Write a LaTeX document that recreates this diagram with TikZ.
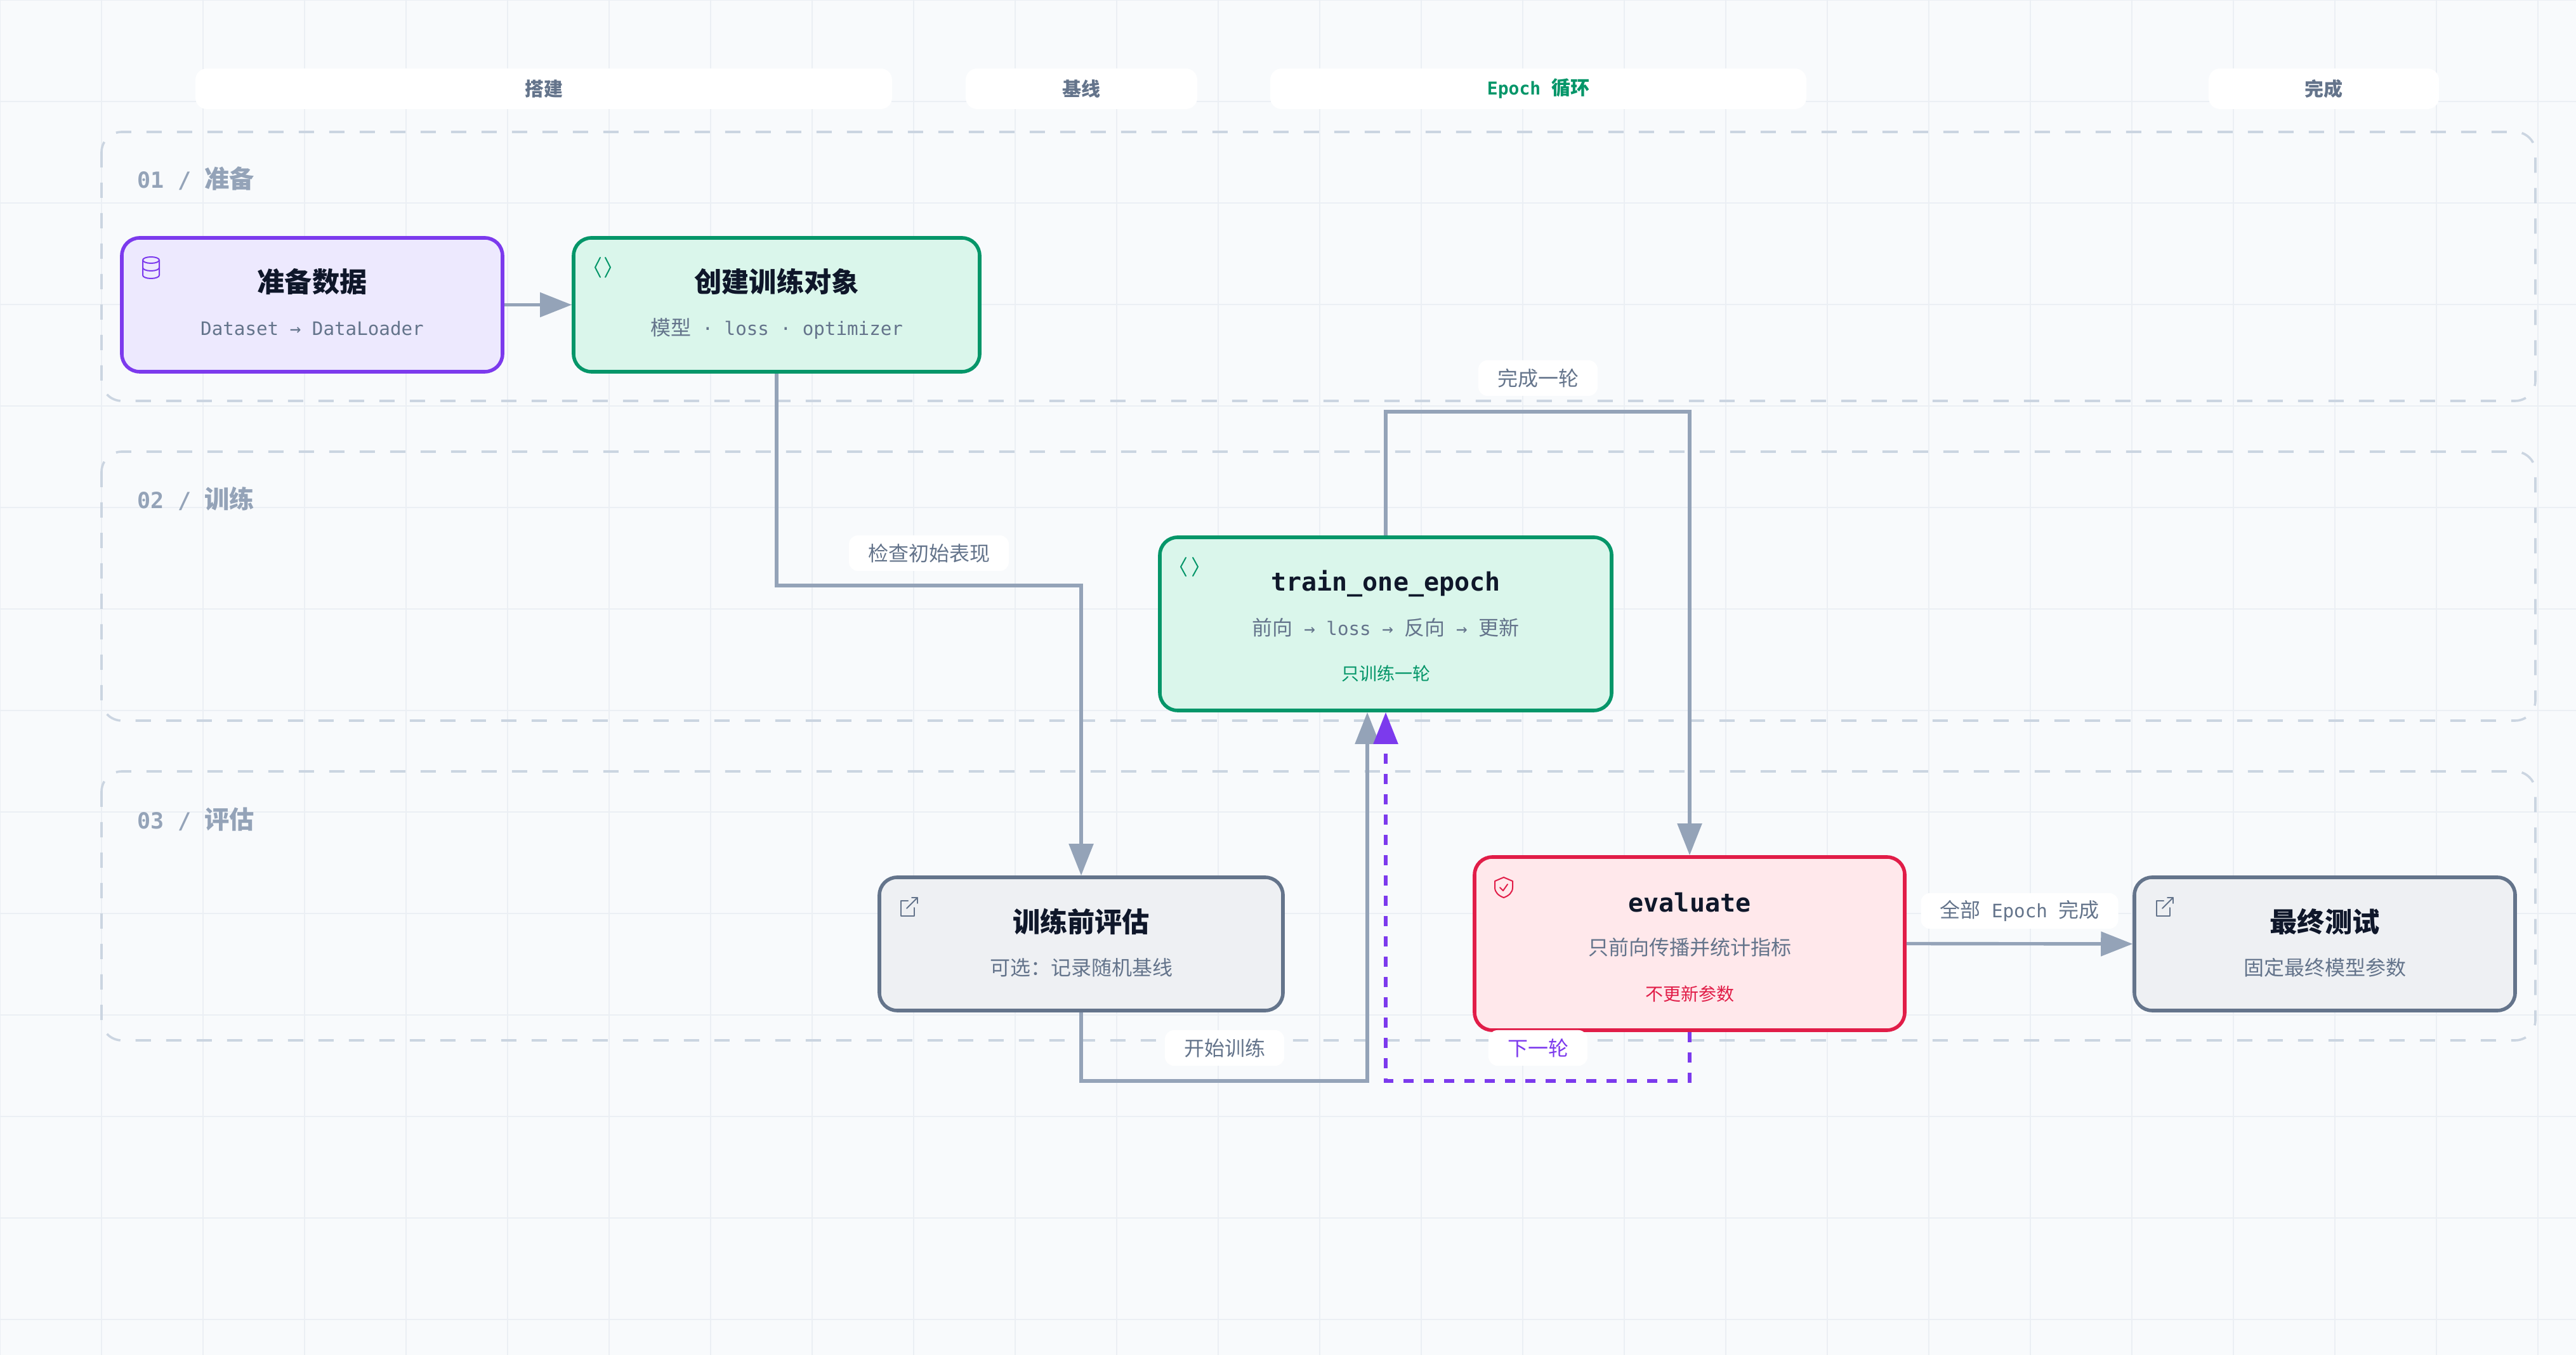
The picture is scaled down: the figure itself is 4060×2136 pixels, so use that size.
\documentclass[tikz,border=0pt]{standalone}
\usepackage{fontspec}
\setmainfont{Noto Sans CJK SC}
\setmonofont{DejaVu Sans Mono}
\usetikzlibrary{arrows.meta}
\definecolor{bg}{HTML}{F8FAFC}
\definecolor{gridc}{HTML}{EBEFF4}
\definecolor{lanec}{HTML}{CBD5E1}
\definecolor{lanetxt}{HTML}{94A3B8}
\definecolor{linec}{HTML}{94A3B8}
\definecolor{ink}{HTML}{0F172A}
\definecolor{subc}{HTML}{64748B}
\definecolor{purS}{HTML}{7C3AED}
\definecolor{purF}{HTML}{EDE9FE}
\definecolor{grnS}{HTML}{059669}
\definecolor{grnF}{HTML}{DAF6EB}
\definecolor{redS}{HTML}{E11D48}
\definecolor{redF}{HTML}{FFE8EB}
\definecolor{gryS}{HTML}{64748B}
\definecolor{gryF}{HTML}{EEF0F3}
\newcommand\fs[1]{\fontsize{#1}{#1}\selectfont}
\tikzset{
  gridline/.style={draw=gridc, line width=0.3pt},
  lanebox/.style={draw=lanec, line width=0.9pt, dash pattern=on 6pt off 6pt, rounded corners=8pt},
  lanelbl/.style={anchor=west, text=lanetxt, font=\fs{9.8pt}\bfseries, inner sep=0pt},
  hdr/.style={fill=white, rounded corners=4.5pt, minimum height=16pt, inner sep=0pt, font=\fs{7.5pt}\bfseries, text=subc},
  card/.style={rounded corners=7pt, line width=1.4pt, inner sep=0pt},
  ttl/.style={text=ink, font=\fs{10.8pt}\bfseries, inner sep=0pt},
  mttl/.style={text=ink, font=\ttfamily\fs{10pt}\bfseries, inner sep=0pt},
  subt/.style={text=subc, font=\fs{8pt}, inner sep=0pt},
  thirdl/.style={font=\fs{7pt}, inner sep=0pt},
  arrowline/.style={draw=linec, line width=1.35pt, -{Triangle[length=12.5pt,width=9.5pt]}},
  loopline/.style={draw=purS, line width=1.35pt, dash pattern=on 4pt off 4pt, -{Triangle[length=12.5pt,width=9.5pt]}},
  pill/.style={fill=white, rounded corners=3.5pt, minimum height=14pt, inner xsep=7.5pt, inner ysep=0pt, font=\fs{8pt}, text=subc},
  icon/.style={line width=0.5pt, line cap=round, line join=round},
}
\begin{document}
\begin{tikzpicture}[x=0.25pt,y=-0.25pt]
\useasboundingbox (0,0) rectangle (4060,2136);
\fill[bg] (0,0) rectangle (4060,2136);
\foreach \gx in {0,160,...,4000} \draw[gridline] (\gx,0) -- (\gx,2136);
\foreach \gy in {0,160,...,2080} \draw[gridline] (0,\gy) -- (4060,\gy);

% header pills
\node[hdr, minimum width=274.5pt] (h1) at (857,140) {搭建};
\node[hdr, minimum width=91.25pt] (h2) at (1704.5,140) {基线};
\node[hdr, minimum width=211.25pt, text=grnS] (h3) at (2424.5,140) {{\ttfamily\fs{7pt}Epoch }循环};
\node[hdr, minimum width=90.75pt] (h4) at (3662.5,140) {完成};

% lanes
\draw[lanebox] (160,208) rectangle (3996,632);
\draw[lanebox] (160,712) rectangle (3996,1136);
\draw[lanebox] (160,1216) rectangle (3996,1640);
\node[lanelbl] (l1) at (216,282) {{\ttfamily\fs{8.75pt}01 / }准备};
\node[lanelbl] (l2) at (216,786) {{\ttfamily\fs{8.75pt}02 / }训练};
\node[lanelbl] (l3) at (216,1292) {{\ttfamily\fs{8.75pt}03 / }评估};

% cards
\node[card, draw=purS, fill=purF, minimum width=150pt, minimum height=52.75pt] (data) at (492,480.5) {};
\node[ttl] (data-t) at (492,444) {准备数据};
\node[subt] (data-s) at (492,518) {\ttfamily\fs{7.3pt}Dataset → DataLoader};

\node[card, draw=grnS, fill=grnF, minimum width=160pt, minimum height=52.75pt] (create) at (1224,480.5) {};
\node[ttl] (create-t) at (1224,444) {创建训练对象};
\node[subt] (create-s) at (1224,518) {模型{\ttfamily\fs{7.3pt} · loss · optimizer}};

\node[card, draw=grnS, fill=grnF, minimum width=178pt, minimum height=68.25pt] (train) at (2184,983.5) {};
\node[mttl] (train-t) at (2184,920) {train\_one\_epoch};
\node[subt] (train-s) at (2184,989) {前向{\ttfamily\fs{7.3pt} → loss → }反向{\ttfamily\fs{7.3pt} → }更新};
\node[thirdl, text=grnS] (train-n) at (2184,1062) {只训练一轮};

\node[card, draw=gryS, fill=gryF, minimum width=159pt, minimum height=52.5pt] (pre) at (1704,1488) {};
\node[ttl] (pre-t) at (1704,1453) {训练前评估};
\node[subt] (pre-s) at (1704,1525) {可选：记录随机基线};

\node[card, draw=redS, fill=redF, minimum width=169.5pt, minimum height=68.25pt] (eval) at (2663,1487.5) {};
\node[mttl] (eval-t) at (2663,1423) {evaluate};
\node[subt] (eval-s) at (2663,1493) {只前向传播并统计指标};
\node[thirdl, text=redS] (eval-n) at (2663,1567) {不更新参数};

\node[card, draw=gryS, fill=gryF, minimum width=150pt, minimum height=52.5pt] (final) at (3664,1488) {};
\node[ttl] (final-t) at (3664,1453) {最终测试};
\node[subt] (final-s) at (3664,1525) {固定最终模型参数};

% icons
\draw[icon, purS] (238,410) ellipse [x radius=3.25pt, y radius=1.25pt];
\draw[icon, purS] (225,410) -- (225,434) arc[start angle=180, end angle=360, x radius=3.25pt, y radius=1.25pt] -- (251,410);
\draw[icon, purS] (225,422) arc[start angle=180, end angle=360, x radius=3.25pt, y radius=1.25pt];
\draw[icon, grnS] (946,406) -- (938,421.5) -- (946,437);
\draw[icon, grnS] (954,406) -- (962,421.5) -- (954,437);
\draw[icon, grnS] (1869,879) -- (1861,893.5) -- (1869,908);
\draw[icon, grnS] (1880,879) -- (1888,893.5) -- (1880,908);
\draw[icon, gryS] (1431,1420) -- (1420,1420) -- (1420,1444) -- (1441,1444) -- (1441,1431);
\draw[icon, gryS] (1429,1432) -- (1446,1415);
\draw[icon, gryS] (1437,1415) -- (1446,1415) -- (1446,1424);
\draw[icon, gryS] (3410,1420) -- (3399,1420) -- (3399,1444) -- (3420,1444) -- (3420,1431);
\draw[icon, gryS] (3408,1432) -- (3425,1415);
\draw[icon, gryS] (3416,1415) -- (3425,1415) -- (3425,1424);
\draw[icon, redS] (2370,1383) -- (2384,1389) -- (2384,1399) .. controls (2384,1407) and (2378,1412) .. (2370,1415) .. controls (2362,1412) and (2356,1407) .. (2356,1399) -- (2356,1389) -- cycle;
\draw[icon, redS] (2364,1399) -- (2369,1404) -- (2376,1394);

% connectors
\coordinate (j1) at (1464,923);
\coordinate (j2) at (2424,649);
\coordinate (j3) at (1930,1704);
\coordinate (j4) at (2424,1704);
\draw[arrowline] (data.east) -- (create.west);
\draw[arrowline] (create.south) |- (j1) -| (pre.north);
\draw[arrowline] (train.north) |- (j2) -| (eval.north);
\draw[arrowline] (pre.south) |- (j3) -| (train.south -| 2155,0);
\draw[loopline] (eval.south) |- (j4) -| (train.south);
\draw[arrowline] (eval.east) -- (final.west);

% connector labels
\node[pill] (p1) at (1464,872) {检查初始表现};
\node[pill] (p2) at (2424,596) {完成一轮};
\node[pill] (p3) at (1930,1652) {开始训练};
\node[pill, text=purS] (p4) at (2424,1652) {下一轮};
\node[pill] (p5) at (3183,1436) {全部{\ttfamily\fs{7.3pt} Epoch }完成};
\end{tikzpicture}
\end{document}
